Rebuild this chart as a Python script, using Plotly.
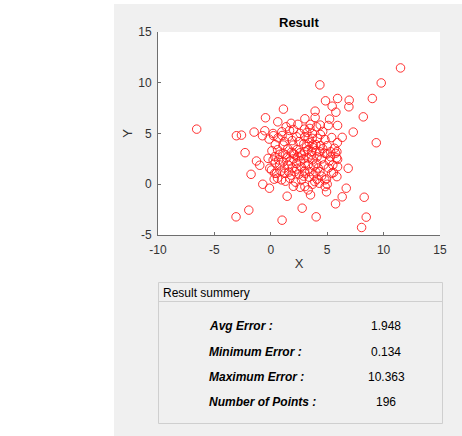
import plotly.graph_objects as go

# ---- data ----
x_vals = [
    -6.57, -3.05, -2.6, -1.48, -2.28, -1.27, -0.98, -1.75, -0.71, -0.12,
    -1.95, -3.08, 1.0, 1.45, 2.78, 4.02, 3.52, 4.94, 4.82, 5.74,
    6.33, 6.69, 8.28, 8.46, 8.05, 6.86, 9.35, 7.31, 6.33, 8.2,
    9.0, 9.79, 11.5, 4.35, 4.85, 5.92, 5.44, 5.77, 6.95, 6.92,
    5.21, 5.92, 5.09, 4.38, 3.93, 3.93, 4.05, 3.02, 2.99, 1.12,
    -0.47, 0.62, -0.53, -0.74, -0.15, 0.24, 1.36, 1.66, 0.98, 4.14,
    3.67, 3.76, 5.65, 5.86, 5.92, 5.92, 5.86, 4.97, 5.18, 5.56,
    4.94, 2.93, 2.28,
    1.54, 0.65, 3.02, 1.09, 1.98, 0.80, 1.83, 3.02,
    3.46, 3.31, 3.75, 3.17, 4.35, 3.61, 5.74,
    0.35, 1.09, 1.98, 2.72, 0.80, 1.54, 2.28, 3.02, 0.35, 1.24,
    2.13, 3.02, 0.95, 1.69, 2.72, 3.02, 3.31, -0.24, -0.09,
    3.61, 4.79, 4.06, 3.46, 4.35, 5.39, 3.9, 4.79, 5.83,
    0.5, 0.06, 0.21,
    0.4, 0.7, 1.1, 1.4, 1.7, 2.0, 2.4, 2.6, 2.9, 3.3,
    3.7, 4.1, 4.5, 4.7, 4.2, 3.8, 3.3, 2.7, 2.3, 1.9,
    1.2, 0.9, 1.6, 2.5, 2.9, 3.4, 3.8, 4.1, 4.5, 2.2,
    1.3, 0.6, 2.6, 3.7, 4.3, 5.1, 5.5, 5.3, 4.6, 4.0,
    3.4, 2.5, 1.9, 1.2, 0.4, 0.1, 0.6, 1.5, 2.3, 2.6,
    3.3, 4.0, 4.4, 5.0, 5.3, 4.8, 4.4, 3.7, 2.6, 2.0,
    1.0, 0.2, 1.8, 2.4, 3.5, 4.6, 5.4, 5.9, 2.1, 1.3,
    3.0, 4.0, 1.8, 0.3, 5.0, 2.0, 3.2,
]
y_vals = [
    5.43, 4.78, 4.84, 5.14, 3.11, 2.29, 1.87, 0.98, 0.0, -0.39,
    -2.55, -3.21, -3.54, -1.18, -2.36, -3.21, -1.05, -0.75, -0.23, -1.93,
    -1.24, -0.39, -1.28, -3.24, -4.26, 1.57, 4.09, 5.14, 4.62, 6.64,
    8.45, 9.98, 11.46, 9.79, 8.22, 8.45, 7.69, 7.1, 8.28, 7.63,
    6.42, 5.79, 5.79, 5.83, 7.2, 6.58, 5.66, 6.45, 5.43, 7.4,
    6.55, 6.15, 5.27, 4.78, 4.45, 4.78, 5.66, 5.3, 5.17, 4.52,
    4.52, 3.6, 3.54, 3.21, 2.45, 1.73, 0.75, 2.98, 2.29, 1.15,
    0.52, 3.99, 4.68,
    4.68, 4.58, 4.68, 3.86, 3.86, 2.95, 3.15, 3.2,
    5.5, 4.52, 3.86, 3.7, 3.2, 3.2, 3.05,
    2.72, 3.05, 3.05, 2.88, 1.9, 1.9, 2.06, 2.06, 1.08, 1.08,
    1.24, 1.08, 0.43, 0.59, 0.43, -0.23, -0.56, 2.55, 1.57,
    2.88, 3.05, 2.06, 1.24, 1.24, 1.08, 0.26, 0.43, 2.6,
    1.08, 1.4, 2.39,
    2.1, 2.4, 2.2, 2.6, 2.3, 2.5, 2.7, 2.3, 2.5, 2.6,
    2.4, 2.7, 2.5, 1.9, 1.6, 1.8, 1.9, 1.7, 1.5, 1.6,
    1.6, 1.3, 1.2, 1.0, 0.8, 0.7, 0.9, 0.5, 0.8, 0.2,
    0.3, 0.6, -0.3, 0.0, 0.1, 1.6, 1.9, 2.7, 3.5, 3.9,
    4.1, 4.2, 4.3, 4.2, 3.9, 3.3, 3.4, 3.5, 3.4, 3.1,
    3.4, 3.3, 3.8, 3.8, 3.2, 4.4, 4.9, 5.0, 5.0, 5.4,
    4.8, 5.0, 6.0, 5.9, 5.9, 5.2, 4.6, 4.1, 2.9, 2.9,
    1.3, 1.2, 0.9, 0.5, 0.0, -0.2, 5.1,
]

x_ticks = [-10, -5, 0, 5, 10, 15]
y_ticks = [-5, 0, 5, 10, 15]

summary_header = "Result summery"
summary_labels = ["Avg Error :", "Minimum Error :", "Maximum Error :", "Number of Points :"]
summary_values = ["1.948", "0.134", "10.363", "196"]

# ---- layout geometry (pixels) ----
W, H = 462, 436
L, R, T, B = 158, 440, 32, 235  # plot area in pixels


def px(xp):
    return (xp - L) / (R - L)


def py(yp):
    return (B - yp) / (B - T)


FONT = "Liberation Sans, Arial, Helvetica, sans-serif"
AXC = "#6e6e6e"
TXT = "#333333"

fig = go.Figure()
fig.add_trace(go.Scatter(
    x=x_vals, y=y_vals, mode="markers",
    marker=dict(symbol="circle-open", size=8.5, color="#ff1a1a",
                line=dict(color="#ff1a1a", width=0.9)),
    hoverinfo="x+y", showlegend=False,
))

shapes = [
    # grey figure panel
    dict(type="rect", xref="paper", yref="paper", layer="below",
         x0=px(114), x1=px(462), y0=py(436), y1=py(4),
         fillcolor="#f0f0f0", line=dict(width=0)),
    # white plot area
    dict(type="rect", xref="paper", yref="paper", layer="below",
         x0=0, x1=1, y0=0, y1=1, fillcolor="white", line=dict(width=0)),
    # summary panel
    dict(type="rect", xref="paper", yref="paper", layer="below",
         x0=px(158.5), x1=px(442.5), y0=py(423.5), y1=py(282.5),
         fillcolor="#f0f0f0", line=dict(color="#cfcfcf", width=1)),
    dict(type="line", xref="paper", yref="paper", layer="below",
         x0=px(158.5), x1=px(442.5), y0=py(301.5), y1=py(301.5),
         line=dict(color="#cfcfcf", width=1)),
]

annotations = [
    dict(text="<b>Result</b>", x=px((L + R) / 2), y=py(23), xref="paper", yref="paper",
         showarrow=False, font=dict(family=FONT, size=13, color="#000000"),
         xanchor="center", yanchor="middle"),
    dict(text=summary_header, x=px(161), y=py(292.5), xref="paper", yref="paper",
         showarrow=False, font=dict(family=FONT, size=12, color="#000000"),
         xanchor="left", yanchor="middle"),
]
row_y = [326, 351.7, 377.3, 402]
for lab, val, yy in zip(summary_labels, summary_values, row_y):
    annotations.append(dict(text="<b><i>" + lab + "</i></b>", x=px(207), y=py(yy),
                            xref="paper", yref="paper", showarrow=False,
                            font=dict(family=FONT, size=12, color="#000000"),
                            xanchor="left", yanchor="middle"))
    annotations.append(dict(text=val, x=px(386), y=py(yy),
                            xref="paper", yref="paper", showarrow=False,
                            font=dict(family=FONT, size=12, color="#000000"),
                            xanchor="center", yanchor="middle"))

fig.update_layout(
    width=W, height=H,
    margin=dict(l=L, r=W - R, t=T, b=H - B, pad=0),
    paper_bgcolor="white", plot_bgcolor="white",
    shapes=shapes, annotations=annotations,
    font=dict(family=FONT, size=12, color=TXT),
    xaxis=dict(range=[-10, 15], tickvals=x_ticks, ticktext=[str(v) for v in x_ticks],
               showgrid=False, zeroline=False, showline=True, linecolor=AXC, linewidth=1,
               ticks="inside", ticklen=3, tickcolor=AXC, mirror=False,
               ticklabelstandoff=4,
               tickfont=dict(family=FONT, size=12, color=TXT),
               title=dict(text="X", font=dict(family=FONT, size=13, color=TXT), standoff=2),
               automargin=False),
    yaxis=dict(range=[-5, 15], tickvals=y_ticks, ticktext=[str(v) for v in y_ticks],
               showgrid=False, zeroline=False, showline=True, linecolor=AXC, linewidth=1,
               ticks="inside", ticklen=3, tickcolor=AXC, mirror=False,
               ticklabelstandoff=3,
               tickfont=dict(family=FONT, size=12, color=TXT),
               title=dict(text="Y", font=dict(family=FONT, size=13, color=TXT), standoff=2),
               automargin=False),
)

fig.write_html("out.html")
